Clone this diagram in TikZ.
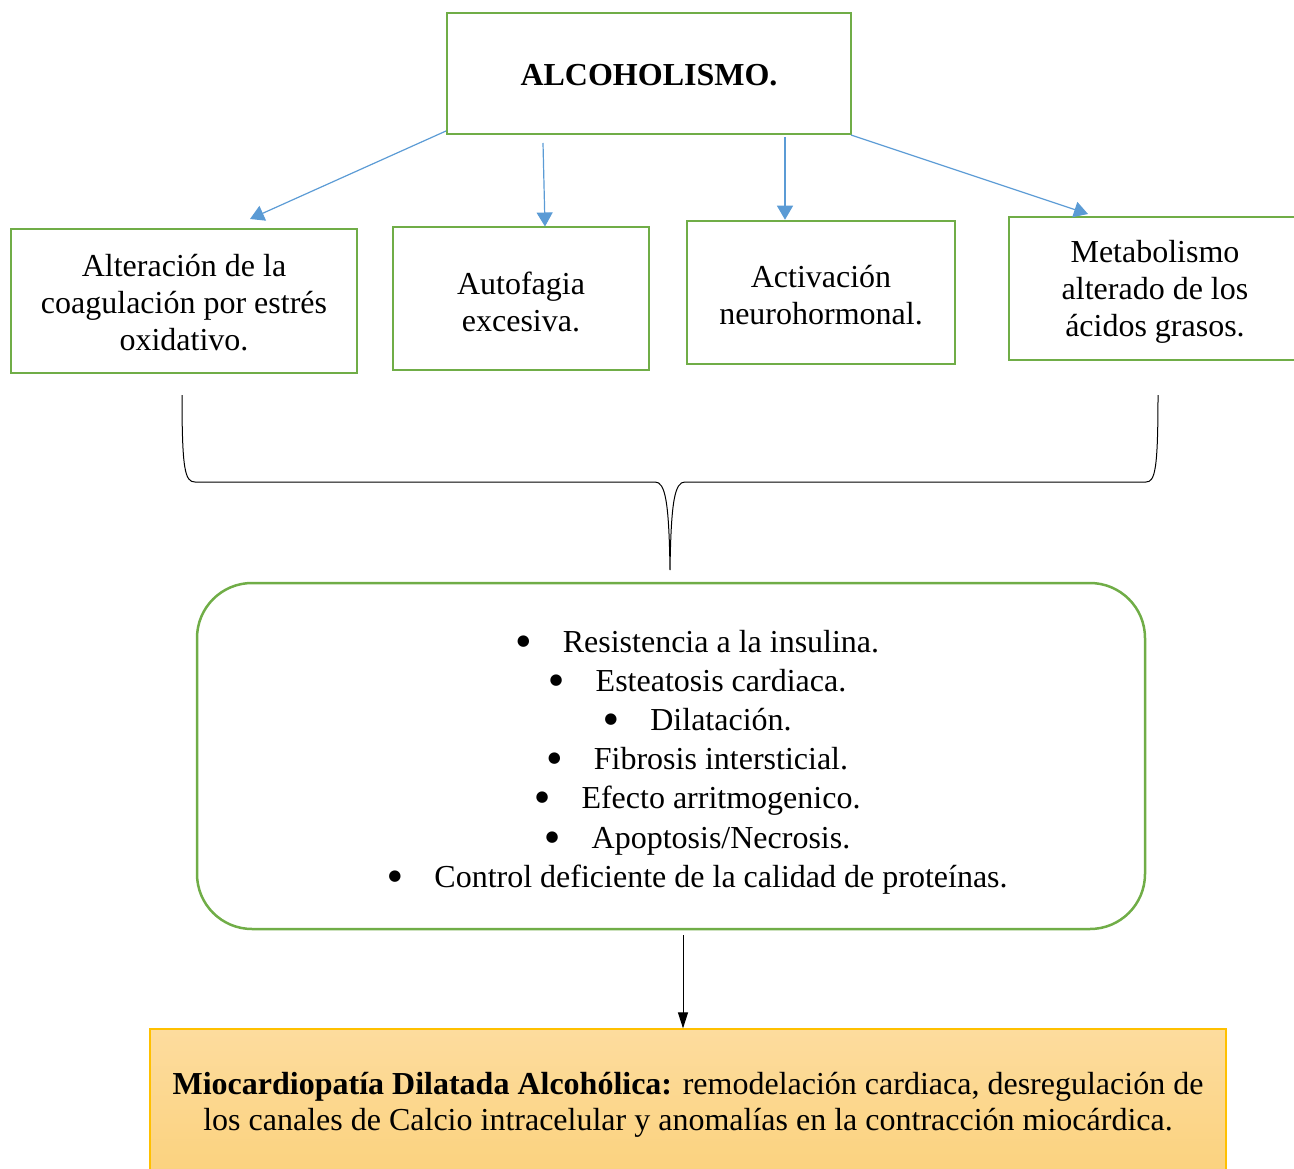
\documentclass[tikz,border=0pt]{standalone}
\usepackage{fontspec}
\setmainfont{Liberation Serif}
\newfontfamily\dvs{DejaVu Sans}
\usetikzlibrary{arrows.meta,calc}
\definecolor{grn}{HTML}{70AD47}
\definecolor{blu}{HTML}{5B9BD5}
\definecolor{orb}{HTML}{FFC000}
\definecolor{ortop}{HTML}{FDDC9E}
\definecolor{orbot}{HTML}{FBD27E}
\newcommand{\blt}{\makebox[46pt][l]{\raisebox{7pt}{\dvs\fontsize{15}{15}\selectfont ●}}}
\tikzset{
  cbox/.style={draw=grn, line width=2.5pt, align=center, inner sep=0pt,
    font=\fontsize{32}{37}\selectfont},
  barrow/.style={draw=blu, line width=1.2pt, -{Triangle[length=14pt,width=16pt]}},
  karrow/.style={draw=black, line width=1pt, -{Triangle[length=16pt,width=10pt]}},
  txt/.style={align=center, font=\fontsize{32}{39.2}\selectfont, inner sep=0pt}
}
\begin{document}
\begin{tikzpicture}[x=1pt,y=-1pt]
\useasboundingbox (0,0) rectangle (1294,1169);
\begin{scope}
\clip (0,0) rectangle (1294,1169);
% top
\node[cbox, minimum width=404pt, minimum height=121pt] (top) at (649,73.5) {};
\node[font=\fontsize{32}{37}\selectfont\bfseries, inner sep=0pt] (toptxt) at (649,75.5) {ALCOHOLISMO.};
% row
\node[cbox, minimum width=346pt, minimum height=144pt, text depth=0pt] (b1) at (184,301) {};
\node[cbox, draw=none, minimum width=0pt, minimum height=0pt] (t1) at (184,303) {Alteración de la\\coagulación por estrés\\oxidativo.};
\node[cbox, minimum width=256pt, minimum height=143pt] (b2) at (521,298.5) {};
\node[cbox, draw=none, minimum width=0pt, minimum height=0pt] (t2) at (521,301.5) {Autofagia\\excesiva.};
\node[cbox, minimum width=268pt, minimum height=143pt] (b3) at (821,292.5) {};
\node[cbox, draw=none, minimum width=0pt, minimum height=0pt] (t3) at (821,295) {Activación\\neurohormonal.};
\node[cbox, minimum width=292pt, minimum height=143pt] (b4) at (1155,288.5) {};
\node[cbox, draw=none, minimum width=0pt, minimum height=0pt] (t4) at (1155,291.5) {Metabolismo\\alterado de los\\ácidos grasos.};
% arrows
\coordinate (a1s) at (446,131);
\coordinate (a1e) at (250,219);
\coordinate (a2s) at (543,143);
\coordinate (a3s) at (785,137);
\coordinate (a4s) at (851,135);
\coordinate (a4e) at (1088,214);
\draw[barrow] (a1s) -- (a1e);
\draw[barrow] (a2s) -- (545,226.5);
\draw[barrow] (a3s) -- (b3.north -| a3s);
\draw[barrow] (a4s) -- (a4e);
% brace
\coordinate (brL) at (182,395);
\coordinate (brR) at (1158,395);
\coordinate (brT) at (670,570);
\draw[line width=1pt] (brL) .. controls (182,470) and (185,482) .. (195,482) -- (655,482)
  .. controls (665,482) and (669,500) .. (brT)
  .. controls (671,500) and (675,482) .. (685,482) -- (1146,482)
  .. controls (1155,482) and (1158,470) .. (brR);
% rounded box
\node[draw=grn, line width=2.5pt, rounded corners=55pt, minimum width=948pt, minimum height=346pt] (mid) at (671,756) {};
\node[txt] (list) at (698,762) {%
\blt Resistencia a la insulina.\\
\blt Esteatosis cardiaca.\\
\blt Dilatación.\\
\blt Fibrosis intersticial.\\
\blt Efecto arritmogenico.\\
\blt Apoptosis/Necrosis.\\
\blt Control deficiente de la calidad de proteínas.};
% bottom box
\node[draw=orb, line width=1.2pt, top color=ortop, bottom color=orbot, minimum width=1076pt, minimum height=146pt] (bot) at (688,1102) {};
\node[align=center, inner sep=0pt, font=\fontsize{32}{36}\selectfont] (bottxt) at (688,1105) {\textbf{Miocardiopatía Dilatada Alcohólica:} remodelación cardiaca, desregulación de\\los canales de Calcio intracelular y anomalías en la contracción miocárdica.};
\coordinate (ks) at (683,935);
\draw[karrow] (ks) -- (bot.north -| ks) ;
\end{scope}
\end{tikzpicture}
\end{document}
